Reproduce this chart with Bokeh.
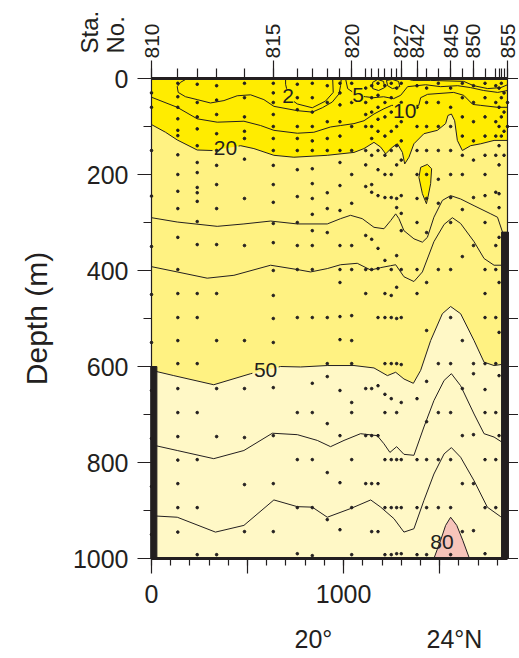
import numpy as np
from bokeh.plotting import figure
from bokeh.models import FixedTicker, LinearAxis, Label, Range1d
from bokeh.embed import file_html
from bokeh.resources import INLINE

FONT = "Liberation Sans"
INK = "#231F20"
BRIGHT = "#FFEC00"
LIGHT = "#FFF282"
PALE = "#FFF8C6"
PINK = "#F7C4BA"

# ---------------- data ----------------
X_END = 1853      # km, length of the section
D_END = 1000      # m, deepest depth shown

# station positions along the section (km) and labelled stations
STA_KM = [0, 137, 238, 339, 484, 634, 759, 837, 915, 981, 1042, 1115, 1146, 1179, 1215,
          1248, 1276, 1300, 1382, 1432, 1493, 1557, 1618, 1676, 1736, 1792, 1809, 1821, 1835, 1853]
STA_LAB_KM = [0, 634, 1042, 1300, 1382, 1557, 1676, 1853]
STA_LAB_NUM = ["810", "815", "820", "827", "842", "845", "850", "855"]

# sample depths (m) at each station
DOT_DEPTHS = [
    [30, 60, 150, 245, 350, 450, 550, 650, 750, 850, 950],
    [10, 38, 60, 84, 108, 119, 159, 200, 235, 271, 331, 398, 448, 498, 546, 594, 646, 696, 746, 795, 844, 894, 945],
    [12, 50, 80, 105, 140, 175, 196, 227, 238, 256, 298, 346, 448, 498, 594, 696, 794, 894, 992],
    [15, 45, 75, 115, 150, 181, 221, 271, 346, 448, 546, 646, 746, 992],
    [10, 40, 80, 110, 125, 168, 250, 348, 546, 646, 748, 846, 944],
    [10, 30, 50, 75, 100, 125, 150, 181, 221, 258, 302, 342, 400, 452, 500, 550, 644, 744, 844, 944],
    [12, 40, 65, 100, 125, 150, 190, 246, 300, 348, 398, 498, 696, 794, 894, 990],
    [10, 40, 70, 100, 130, 150, 188, 219, 250, 283, 317, 348, 398, 498, 635, 696, 794, 894, 994],
    [15, 50, 90, 125, 150, 238, 271, 321, 498, 594, 621, 719, 821, 919],
    [10, 30, 55, 90, 120, 150, 175, 223, 275, 348, 398, 425, 496, 544, 650, 744, 842, 940],
    [10, 50, 100, 150, 200, 260, 348, 398, 494, 546, 594, 675, 696, 794, 894, 992],
    [20, 50, 75, 100, 150, 180, 225, 327, 398, 448, 646, 744, 844],
    [15, 40, 70, 100, 125, 160, 221, 237, 335, 398, 646, 744, 844, 944],
    [10, 35, 60, 85, 110, 150, 190, 244, 354, 396, 498, 640, 744, 844, 944],
    [15, 50, 80, 120, 160, 200, 248, 379, 448, 498, 594, 658, 696, 794, 894, 992],
    [10, 40, 70, 110, 150, 200, 248, 398, 452, 498, 594, 667, 794, 894, 992],
    [20, 60, 100, 140, 180, 250, 269, 369, 435, 500, 594, 696, 794, 894, 990],
    [10, 50, 90, 130, 170, 244, 281, 317, 398, 498, 596, 675, 794, 894, 990],
    [15, 60, 100, 150, 200, 250, 300, 398, 448, 667, 794, 894, 992],
    [20, 50, 100, 150, 200, 250, 321, 425, 525, 631, 715, 794, 894, 992],
    [10, 50, 100, 150, 210, 260, 398, 594, 696, 794, 894],
    [20, 60, 100, 150, 200, 248, 300, 398, 498, 594, 696, 794, 894, 992],
    [10, 40, 80, 120, 160, 200, 273, 371, 546, 646, 744, 844, 944],
    [15, 50, 90, 130, 170, 248, 348, 594, 615, 742, 844, 942],
    [10, 40, 80, 120, 160, 200, 244, 300, 398, 448, 498, 594, 648, 696, 794, 894, 990],
    [15, 50, 90, 120, 160, 237, 348, 398, 498, 594, 696, 794, 894],
    [20, 60, 100, 140, 180, 240, 269, 331, 425, 529, 619, 744],
    [10, 40, 80, 120],
    [30, 70, 110, 160],
    [50, 100],
]

# isolines: distance (km) and depth (m)
C2A_X = [698, 698, 714, 759, 837, 906, 946, 943]
C2A_D = [0, 12, 40, 53, 61, 47, 29, 0]
C2B_X = [1323, 1359, 1453, 1625, 1677, 1750, 1818, 1853]
C2B_D = [0, 4, 4, 6, 15, 21, 19, 13]
C2C_X = [1151, 1177, 1208, 1213, 1182, 1151, 1151]
C2C_D = [8, 2, 6, 19, 25, 21, 8]
C2D_X = [1223, 1254, 1286, 1292, 1254, 1229, 1223]
C2D_D = [4, 2, 6, 17, 21, 15, 4]

C5A_X = [186, 151, 134, 139, 177, 238, 307, 377, 446, 516, 585, 637, 759, 837, 889, 941, 976, 984, 988]
C5A_D = [0, 8, 17, 29, 38, 44, 51, 46, 36, 34, 44, 58, 67, 70, 61, 49, 32, 15, 0]
C5B_X = [1010, 1021, 1075, 1114, 1156, 1208, 1260, 1297, 1333, 1427, 1505, 1594, 1661, 1729, 1802, 1853]
C5B_D = [0, 21, 36, 38, 40, 38, 42, 35, 17, 13, 17, 15, 19, 25, 29, 25]

C10_X = [0, 134, 238, 342, 481, 568, 637, 759, 845, 932, 984, 1054, 1106, 1158, 1210, 1250,
         1391, 1401, 1437, 1573, 1625, 1672, 1714, 1802, 1853]
C10_D = [39, 60, 84, 91, 89, 98, 108, 114, 112, 101, 98, 94, 88, 74, 63, 56,
         56, 40, 33, 29, 35, 54, 56, 60, 60]

C20_X = [0, 73, 134, 238, 316, 464, 533, 637, 741, 915, 1054, 1106, 1158, 1193, 1219, 1254, 1280,
         1306, 1318, 1340, 1366, 1418, 1488, 1531, 1543, 1561, 1578, 1592, 1618, 1661, 1714, 1783, 1853]
C20_D = [96, 112, 128, 149, 150, 140, 146, 160, 164, 160, 154, 146, 133, 143, 157, 143, 136,
         154, 178, 164, 136, 115, 108, 94, 77, 74, 88, 129, 150, 140, 136, 129, 129]

C30_X = [0, 134, 342, 481, 620, 759, 915, 984, 1036, 1097, 1158, 1210, 1245, 1271, 1288, 1314,
         1366, 1410, 1436, 1470, 1514, 1557, 1609, 1679, 1766, 1801, 1827, 1853]
C30_D = [290, 299, 308, 303, 297, 303, 303, 292, 285, 292, 310, 313, 296, 282, 292, 317,
         334, 341, 331, 289, 254, 244, 251, 265, 282, 289, 320, 335]

C40_X = [0, 134, 290, 429, 620, 759, 828, 915, 984, 1071, 1141, 1193, 1245, 1271, 1314, 1366,
         1410, 1470, 1523, 1566, 1609, 1679, 1731, 1783, 1853]
C40_D = [392, 403, 416, 410, 389, 398, 403, 396, 388, 385, 399, 394, 390, 388, 413, 423,
         403, 340, 304, 290, 302, 340, 375, 389, 389]

C50_X = [0, 116, 324, 516, 672, 776, 915, 1054, 1158, 1228, 1271, 1314, 1363, 1401, 1453,
         1514, 1557, 1609, 1679, 1731, 1783, 1853]
C50_D = [608, 619, 638, 615, 600, 601, 598, 598, 603, 619, 612, 626, 635, 608, 546,
         490, 475, 490, 546, 591, 598, 594]

C60_X = [0, 134, 324, 481, 629, 759, 863, 932, 1002, 1088, 1175, 1210, 1241, 1276, 1314, 1366,
         1418, 1470, 1523, 1561, 1609, 1679, 1731, 1783, 1853]
C60_D = [763, 775, 792, 775, 739, 742, 754, 767, 754, 740, 744, 761, 779, 767, 783, 785,
         726, 671, 629, 615, 640, 699, 740, 747, 765]

C70_X = [0, 134, 333, 481, 637, 759, 837, 915, 1036, 1141, 1193, 1262, 1314, 1366, 1418, 1470,
         1523, 1561, 1609, 1679, 1748, 1818, 1853]
C70_D = [911, 914, 945, 931, 878, 892, 893, 914, 896, 878, 893, 917, 945, 938, 879, 824,
         782, 769, 789, 838, 893, 913, 918]

BLOB_X = [1401, 1436, 1458, 1453, 1439, 1431, 1410, 1392]
BLOB_D = [185, 179, 188, 219, 247, 261, 240, 206]

C80_X = [1470, 1505, 1531, 1557, 1589, 1620, 1655]
C80_D = [1000, 962, 931, 914, 931, 962, 1000]

# no-data bars at the ends of the section
MASK_LEFT = [-4, 1822]
MASK_RIGHT = [28, 1858]
MASK_TOP = [600, 320]

CONTOUR_LABELS = [("2", 711, 36, BRIGHT), ("5", 1075, 34, BRIGHT), ("10", 1318, 67, BRIGHT),
                  ("20", 385, 145, None), ("50", 594, 607, None), ("80", 1512, 965, None)]

DEPTH_MAJOR = [0, 200, 400, 600, 800, 1000]
DEPTH_MINOR = [100, 300, 500, 700, 900]
DEPTH_ALL = list(range(0, 1001, 100))
DIST_MAJOR = [0, 500, 1000, 1500]
DIST_MINOR = list(range(0, 1900, 100))
DIST_LABELS = {0: "0", 500: "", 1000: "1000", 1500: ""}
LAT_KM = [843, 1577]
LAT_LABELS = ["20°", "24°N"]

# ---------------- geometry (pixels) ----------------
W, H = 518, 656
BOX_L, BOX_T, BOX_W, BOX_H = 151, 78, 356, 480
KX = BOX_W / X_END      # px per km
DY = BOX_H / D_END      # px per m
X0 = -BOX_L / KX
X1 = X0 + W / KX
Y_TOP = -BOX_T / DY
Y_BOT = Y_TOP + H / DY


def with_gap(xs, ys, xa, xb):
    xs = np.asarray(xs, float)
    ys = np.asarray(ys, float)
    ya, yb = np.interp([xa, xb], xs, ys)
    left = xs < xa
    right = xs > xb
    gx = np.concatenate([xs[left], [xa, np.nan, xb], xs[right]])
    gy = np.concatenate([ys[left], [ya, np.nan, yb], ys[right]])
    return gx, gy


# ---------------- figure ----------------
p = figure(width=W, height=H, x_range=Range1d(X0, X1), y_range=Range1d(Y_BOT, Y_TOP),
           output_backend="svg", toolbar_location=None,
           x_axis_location=None, y_axis_location=None, min_border=0)
p.background_fill_color = "white"
p.border_fill_color = "white"
p.outline_line_color = None
p.xgrid.grid_line_color = None
p.ygrid.grid_line_color = None

# section background and fills
p.quad(left=[0], right=[X_END], top=[0], bottom=[D_END], fill_color=PALE, line_color=None)
p.varea(x=C50_X, y1=0, y2=C50_D, fill_color=LIGHT)
p.varea(x=C20_X, y1=0, y2=C20_D, fill_color=BRIGHT)
p.patch(BLOB_X, BLOB_D, fill_color=BRIGHT, line_color=INK, line_width=1)
p.patch(C80_X, C80_D, fill_color=PINK, line_color=INK, line_width=1)

# isolines
lw = 1.0
for xs, ds in [(C2A_X, C2A_D), (C2B_X, C2B_D), (C2C_X, C2C_D), (C2D_X, C2D_D),
               (C5A_X, C5A_D), (C5B_X, C5B_D), (C10_X, C10_D), (C30_X, C30_D),
               (C40_X, C40_D), (C60_X, C60_D), (C70_X, C70_D)]:
    p.line(xs, ds, line_color=INK, line_width=lw)
gx, gy = with_gap(C20_X, C20_D, 318, 453)
p.line(gx, gy, line_color=INK, line_width=lw)
gx, gy = with_gap(C50_X, C50_D, 525, 662)
p.line(gx, gy, line_color=INK, line_width=lw)

# sample points
dx, dy = [], []
for km, depths in zip(STA_KM, DOT_DEPTHS):
    dx += [km] * len(depths)
    dy += depths
p.scatter(dx, dy, size=2.6, color=INK)

# no-data bars
p.quad(left=MASK_LEFT, right=MASK_RIGHT, top=MASK_TOP, bottom=[D_END, D_END], color=INK)

# contour labels
for txt, x, y, bg in CONTOUR_LABELS:
    p.add_layout(Label(x=x, y=y, text=txt, text_align="center", text_baseline="middle",
                       text_font=FONT, text_font_size="21px", text_color=INK,
                       background_fill_color=bg))


# axes, pinned to the edges of the section
def style(ax, size="25px"):
    ax.major_label_text_font = FONT
    ax.major_label_text_font_size = size
    ax.major_label_text_color = INK
    ax.axis_line_color = INK
    ax.major_tick_line_color = INK
    ax.minor_tick_line_color = INK
    ax.major_tick_in = 0
    ax.minor_tick_in = 0
    ax.major_tick_line_width = 1.2
    ax.minor_tick_line_width = 1.2


left = LinearAxis(ticker=FixedTicker(ticks=DEPTH_MAJOR, minor_ticks=DEPTH_MINOR),
                  axis_label="Depth (m)", fixed_location=0, bounds=(0, D_END))
style(left)
left.major_tick_out = 14
left.minor_tick_out = 8
left.major_label_standoff = 9
left.axis_label_standoff = 17
left.axis_label_text_font = FONT
left.axis_label_text_font_size = "30px"
left.axis_label_text_font_style = "normal"
left.axis_label_text_color = INK
left.axis_line_width = 1.2
p.add_layout(left, "left")

right = LinearAxis(ticker=FixedTicker(ticks=DEPTH_ALL),
                   major_label_overrides={t: "" for t in DEPTH_ALL},
                   fixed_location=X_END, bounds=(0, D_END))
style(right)
right.major_tick_out = 11
right.major_label_standoff = 0
right.axis_line_width = 1.2
p.add_layout(right, "right")

bottom = LinearAxis(ticker=FixedTicker(ticks=DIST_MAJOR, minor_ticks=DIST_MINOR),
                    major_label_overrides=DIST_LABELS, fixed_location=D_END, bounds=(0, X_END))
style(bottom)
bottom.major_tick_out = 15
bottom.minor_tick_out = 7
bottom.major_label_standoff = 11
bottom.axis_line_width = 3
p.add_layout(bottom, "below")

lat = LinearAxis(ticker=FixedTicker(ticks=LAT_KM),
                 major_label_overrides=dict(zip(LAT_KM, LAT_LABELS)),
                 fixed_location=D_END, bounds=(0, X_END))
style(lat)
lat.axis_line_color = None
lat.major_tick_line_color = None
lat.minor_tick_line_color = None
lat.major_tick_out = 0
lat.minor_tick_out = 0
lat.major_label_standoff = 66
p.add_layout(lat, "below")

top = LinearAxis(ticker=FixedTicker(ticks=STA_LAB_KM, minor_ticks=STA_KM),
                 major_label_overrides=dict(zip(STA_LAB_KM, STA_LAB_NUM)),
                 major_label_orientation="vertical", fixed_location=0, bounds=(0, X_END))
style(top, "21px")
top.major_tick_out = 18
top.minor_tick_out = 10
top.major_label_standoff = 2
top.axis_line_width = 3
p.add_layout(top, "above")

# "Sta. No." heading above the depth labels
for txt, x in [("Sta.", -323), ("No.", -187)]:
    p.add_layout(Label(x=x, y=-52, text=txt, angle=90, angle_units="deg",
                       text_align="left", text_baseline="middle",
                       text_font=FONT, text_font_size="24px", text_color=INK))

open("out.html", "w").write(file_html(p, INLINE))
